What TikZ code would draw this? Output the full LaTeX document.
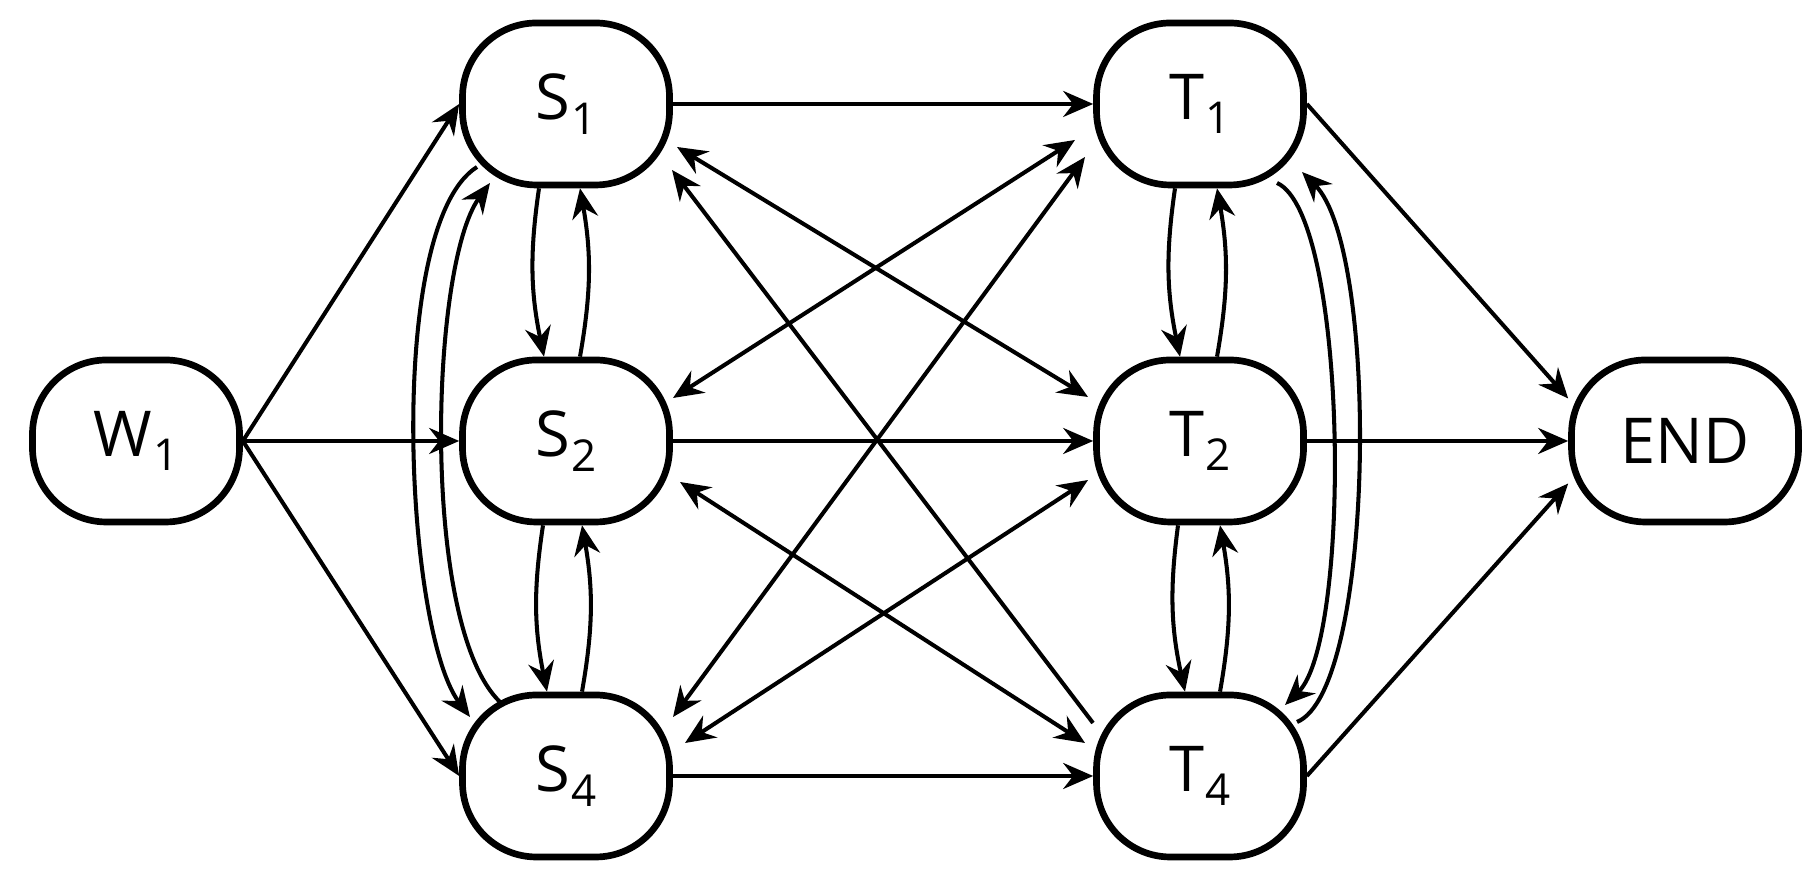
\documentclass[tikz,border=0pt]{standalone}
\usepackage{fontspec}
\setmainfont{Open Sans}
\usepackage{tikz}
\usetikzlibrary{arrows.meta}

\newcommand{\lowidx}[1]{\kern0.5pt\raisebox{-4.2pt}{\fontsize{12.5}{13}\selectfont #1}}

\begin{document}
\begin{tikzpicture}[
  >={Stealth[length=3mm,width=2.6mm,inset=1mm]},
  state/.style={draw, line width=1.9pt, rounded corners=0.74cm, minimum width=2.07cm, minimum height=1.62cm, font=\fontsize{18}{20}\selectfont},
  link/.style={line width=1.15pt}
]
\useasboundingbox (0,0) rectangle (18.17,8.76);

% States
\node[state] (W1) at (1.36,4.35) {W\lowidx{1}};
\node[state] (S1) at (5.66,7.72) {S\lowidx{1}};
\node[state] (S2) at (5.66,4.35) {S\lowidx{2}};
\node[state] (S4) at (5.66,1.00) {S\lowidx{4}};
\node[state] (T1) at (12.00,7.72) {T\lowidx{1}};
\node[state] (T2) at (12.00,4.35) {T\lowidx{2}};
\node[state] (T4) at (12.00,1.00) {T\lowidx{4}};
\node[state, minimum width=2.27cm] (END) at (16.85,4.35) {END};

% From W1
\draw[link,->] (W1.east) -- (S1.west);
\draw[link,->] (W1.east) -- (S2.west);
\draw[link,->] (W1.east) -- (S4.west);

% Straight across
\draw[link,->] (S1.east) -- (T1.west);
\draw[link,->] (S2.east) -- (T2.west);
\draw[link,->] (S4.east) -- (T4.west);

% Into END
\draw[link,->] (T1.east) -- (END.160);
\draw[link,->] (T2.east) -- (END.west);
\draw[link,->] (T4.east) -- (END.200);

% Crossing links
\draw[link,<->] ([shift={(1.11,-0.43)}]S1.center) -- ([shift={(-1.12,0.44)}]T2.center);
\draw[link,<->] ([shift={(1.07,0.43)}]S2.center) -- ([shift={(-1.25,-0.36)}]T1.center);
\draw[link,->] ([shift={(-1.07,0.53)}]T4.center) -- ([shift={(1.06,-0.66)}]S1.center);
\draw[link,<->] ([shift={(1.07,0.59)}]S4.center) -- ([shift={(-1.15,-0.53)}]T1.center);
\draw[link,<->] ([shift={(1.14,-0.41)}]S2.center) -- ([shift={(-1.15,0.33)}]T4.center);
\draw[link,<->] ([shift={(1.19,0.33)}]S4.center) -- ([shift={(-1.12,-0.39)}]T2.center);

% Up and down, S side
\draw[link,->] ([xshift=-0.27cm]S1.south) to[bend right=10] ([xshift=-0.22cm]S2.north);
\draw[link,->] ([xshift=0.14cm]S2.north) to[bend right=10] ([xshift=0.14cm]S1.south);
\draw[link,->] ([xshift=-0.23cm]S2.south) to[bend right=10] ([xshift=-0.19cm]S4.north);
\draw[link,->] ([xshift=0.16cm]S4.north) to[bend right=10] ([xshift=0.16cm]S2.south);

% Up and down, T side
\draw[link,->] ([xshift=-0.25cm]T1.south) to[bend right=10] ([xshift=-0.2cm]T2.north);
\draw[link,->] ([xshift=0.17cm]T2.north) to[bend right=10] ([xshift=0.17cm]T1.south);
\draw[link,->] ([xshift=-0.22cm]T2.south) to[bend right=10] ([xshift=-0.15cm]T4.north);
\draw[link,->] ([xshift=0.2cm]T4.north) to[bend right=10] ([xshift=0.2cm]T2.south);

% Long arcs
\draw[link,->] ([shift={(-0.89,-0.63)}]S1.center) .. controls ([shift={(-1.81,-1.21)}]S1.center) and ([shift={(-1.61,1.46)}]S4.center) .. ([shift={(-0.96,0.59)}]S4.center);
\draw[link,->] ([shift={(-0.66,0.74)}]S4.center) .. controls ([shift={(-1.46,1.51)}]S4.center) and ([shift={(-1.36,-1.61)}]S1.center) .. ([shift={(-0.76,-0.79)}]S1.center);
\draw[link,->] ([shift={(0.77,-0.79)}]T1.center) .. controls ([shift={(1.48,-1.11)}]T1.center) and ([shift={(1.52,1.36)}]T4.center) .. ([shift={(0.85,0.71)}]T4.center);
\draw[link,->] ([shift={(0.97,0.54)}]T4.center) .. controls ([shift={(1.75,0.86)}]T4.center) and ([shift={(1.80,-1.46)}]T1.center) .. ([shift={(1.02,-0.68)}]T1.center);

\end{tikzpicture}
\end{document}
